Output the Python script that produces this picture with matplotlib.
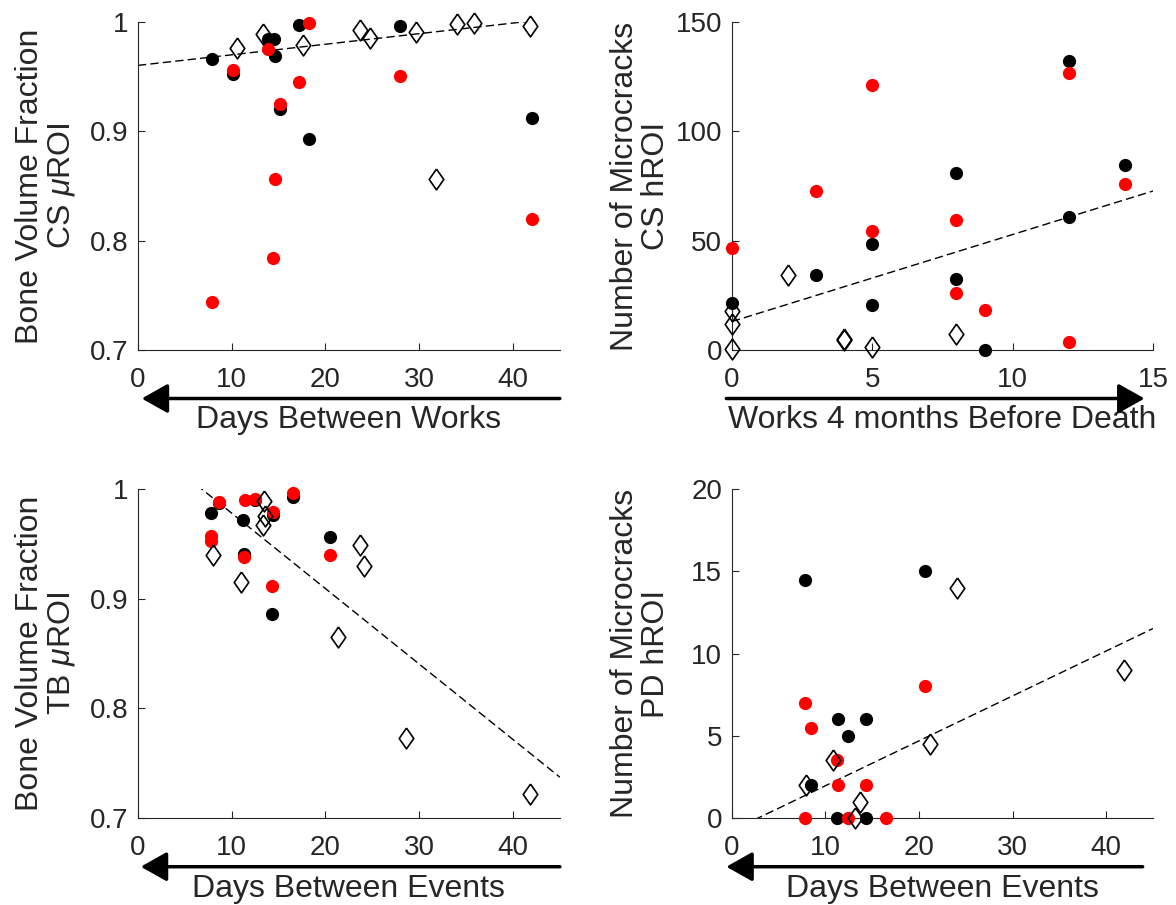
import matplotlib.pyplot as plt
import numpy as np

plt.rcParams['font.family'] = ['Liberation Sans', 'DejaVu Sans']
plt.rcParams['mathtext.fontset'] = 'custom'
plt.rcParams['mathtext.rm'] = 'Liberation Sans'
plt.rcParams['mathtext.it'] = 'Liberation Sans:italic'

GRAY = '#262626'

# top left: CS bone volume fraction vs days between works
cs_bvf_black_x = [7.9, 10.1, 13.9, 14.5, 14.6, 15.2, 17.2, 18.2, 27.9, 42.0]
cs_bvf_black_y = [0.966, 0.952, 0.984, 0.984, 0.969, 0.920, 0.997, 0.893, 0.996, 0.912]
cs_bvf_red_x = [7.9, 10.1, 13.9, 15.2, 17.2, 18.2, 14.6, 14.4, 27.9, 42.0]
cs_bvf_red_y = [0.744, 0.956, 0.975, 0.925, 0.945, 0.999, 0.856, 0.784, 0.951, 0.820]
cs_bvf_diam_x = [10.6, 13.3, 17.6, 23.7, 24.8, 29.7, 31.8, 34.0, 35.8, 41.8]
cs_bvf_diam_y = [0.976, 0.989, 0.979, 0.993, 0.985, 0.991, 0.856, 0.998, 0.999, 0.996]
cs_bvf_fit = (0.000968, 0.9603)

# top right: CS microcracks vs works before death
cs_mc_black_x = [0, 3, 5, 5, 8, 8, 9, 12, 12, 14]
cs_mc_black_y = [21.5, 34.5, 48.5, 20.5, 81, 32.5, 0, 132, 61, 84.5]
cs_mc_red_x = [0, 3, 5, 5, 8, 8, 9, 12, 12, 14]
cs_mc_red_y = [46.5, 72.5, 121, 54.5, 59.5, 26, 18.5, 126.5, 3.5, 76]
cs_mc_diam_x = [0, 0, 0, 2, 4, 4, 5, 8]
cs_mc_diam_y = [18, 12, 0.5, 34.5, 4.5, 5, 1.5, 7.5]
cs_mc_fit = (3.98, 13.0)

# bottom left: TB bone volume fraction vs days between events
tb_bvf_black_x = [7.8, 8.6, 11.2, 11.3, 12.5, 14.4, 14.3, 16.5, 20.5]
tb_bvf_black_y = [0.978, 0.987, 0.972, 0.941, 0.990, 0.976, 0.886, 0.993, 0.956]
tb_bvf_red_x = [7.8, 7.8, 8.6, 11.4, 11.3, 12.5, 14.4, 14.3, 16.5, 20.5]
tb_bvf_red_y = [0.957, 0.953, 0.988, 0.990, 0.938, 0.991, 0.979, 0.912, 0.996, 0.940]
tb_bvf_diam_x = [8.0, 11.0, 13.4, 13.3, 13.6, 23.7, 24.1, 21.3, 28.6, 41.8]
tb_bvf_diam_y = [0.940, 0.915, 0.989, 0.967, 0.975, 0.949, 0.930, 0.865, 0.773, 0.722]
tb_bvf_fit = (-0.00688, 1.0468)

# bottom right: PD microcracks vs days between events
pd_mc_black_x = [7.8, 20.6, 11.3, 14.3, 12.4, 8.5, 11.2, 14.3]
pd_mc_black_y = [14.5, 15, 6, 6, 5, 2, 0, 0]
pd_mc_red_x = [7.8, 8.5, 20.6, 11.2, 11.3, 14.3, 7.8, 12.4, 16.5]
pd_mc_red_y = [7, 5.5, 8, 3.5, 2, 2, 0, 0, 0]
pd_mc_diam_x = [24.1, 41.9, 21.2, 10.8, 7.9, 13.7, 13.2]
pd_mc_diam_y = [14, 9, 4.5, 3.5, 2, 1, 0]
pd_mc_fit = (0.273, -0.765)

diamond = [(0, 1), (0.7, 0), (0, -1), (-0.7, 0), (0, 1)]

fig = plt.figure(figsize=(11.76, 9.05), dpi=100)

panels = [
    dict(pos=[0.1173, 0.6133, 0.3588, 0.3624],
         black=(cs_bvf_black_x, cs_bvf_black_y), red=(cs_bvf_red_x, cs_bvf_red_y),
         diam=(cs_bvf_diam_x, cs_bvf_diam_y), fit=cs_bvf_fit,
         xlim=(0, 45), xticks=[0, 10, 20, 30, 40],
         ylim=(0.7, 1.0), yticks=[0.7, 0.8, 0.9, 1.0], ylabs=['0.7', '0.8', '0.9', '1'],
         ylabel='Bone Volume Fraction\nCS $\\mu$ROI', xlabel='Days Between Works',
         arrow=(45, 0.4)),
    dict(pos=[0.6224, 0.6133, 0.358, 0.3624],
         black=(cs_mc_black_x, cs_mc_black_y), red=(cs_mc_red_x, cs_mc_red_y),
         diam=(cs_mc_diam_x, cs_mc_diam_y), fit=cs_mc_fit,
         xlim=(0, 15), xticks=[0, 5, 10, 15],
         ylim=(0, 150), yticks=[0, 50, 100, 150], ylabs=['0', '50', '100', '150'],
         ylabel='Number of Microcracks\nCS hROI', xlabel='Works 4 months Before Death',
         arrow=(-0.2, 14.7)),
    dict(pos=[0.1173, 0.0961, 0.3588, 0.3635],
         black=(tb_bvf_black_x, tb_bvf_black_y), red=(tb_bvf_red_x, tb_bvf_red_y),
         diam=(tb_bvf_diam_x, tb_bvf_diam_y), fit=tb_bvf_fit,
         xlim=(0, 45), xticks=[0, 10, 20, 30, 40],
         ylim=(0.7, 1.0), yticks=[0.7, 0.8, 0.9, 1.0], ylabs=['0.7', '0.8', '0.9', '1'],
         ylabel='Bone Volume Fraction\nTB $\\mu$ROI', xlabel='Days Between Events',
         arrow=(45, 0.3)),
    dict(pos=[0.6224, 0.0961, 0.358, 0.3635],
         black=(pd_mc_black_x, pd_mc_black_y), red=(pd_mc_red_x, pd_mc_red_y),
         diam=(pd_mc_diam_x, pd_mc_diam_y), fit=pd_mc_fit,
         xlim=(0, 45), xticks=[0, 10, 20, 30, 40],
         ylim=(0, 20), yticks=[0, 5, 10, 15, 20], ylabs=['0', '5', '10', '15', '20'],
         ylabel='Number of Microcracks\nPD hROI', xlabel='Days Between Events',
         arrow=(43.9, -0.6)),
]

for p in panels:
    ax = fig.add_axes(p['pos'])
    slope, icpt = p['fit']
    fx = np.array(p['xlim'], dtype=float)
    ax.plot(fx, icpt + slope * fx, color='k', lw=1.0, ls=(0, (6, 3)), zorder=2)
    ax.plot(*p['black'], 'o', color='k', ms=9.5, mew=0, clip_on=False, zorder=3)
    ax.plot(*p['red'], 'o', color='#ff0000', ms=9.5, mew=0, clip_on=False, zorder=4)
    ax.plot(*p['diam'], ls='none', marker=diamond, ms=15, mfc='none', mec='k',
            mew=1.2, clip_on=False, zorder=5)

    ax.set_xlim(p['xlim'])
    ax.set_ylim(p['ylim'])
    ax.set_xticks(p['xticks'])
    ax.set_yticks(p['yticks'])
    ax.set_yticklabels(p['ylabs'])
    for s in ['top', 'right']:
        ax.spines[s].set_visible(False)
    for s in ['left', 'bottom']:
        ax.spines[s].set_color(GRAY)
        ax.spines[s].set_linewidth(0.8)
    ax.tick_params(direction='in', length=5, width=0.8, color=GRAY,
                   labelcolor=GRAY, labelsize=20)
    ax.tick_params(axis='x', pad=12)
    ax.tick_params(axis='y', pad=7)

    ax.set_ylabel(p['ylabel'], fontsize=23, color=GRAY, linespacing=1.05)
    ax.yaxis.label.set_va('center')
    ax.yaxis.set_label_coords(-0.218, 0.5)
    ax.set_xlabel(p['xlabel'], fontsize=23, color=GRAY)
    ax.xaxis.label.set_va('center')
    ax.xaxis.set_label_coords(0.5, -0.215)

    tail, tip = p['arrow']
    ax.annotate('', xy=(tip, -0.148), xytext=(tail, -0.148),
                xycoords=('data', 'axes fraction'),
                textcoords=('data', 'axes fraction'),
                arrowprops=dict(arrowstyle='-|>,head_length=0.8,head_width=0.45',
                                color='k', lw=2.5, shrinkA=0, shrinkB=0,
                                mutation_scale=20))

fig.savefig('out.png', dpi=100)
